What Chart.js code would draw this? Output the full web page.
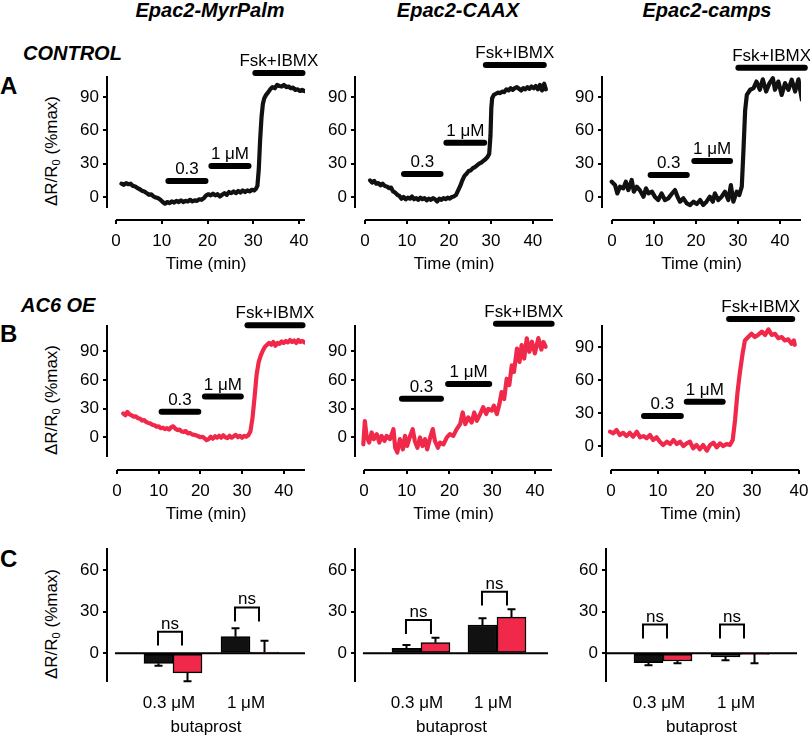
<!DOCTYPE html>
<html>
<head>
<meta charset="utf-8">
<script src="https://cdn.jsdelivr.net/npm/chart.js@4/dist/chart.umd.min.js"></script>
<style>
  body { margin: 0; background: #fff; width: 810px; height: 738px; position: relative; overflow: hidden;
         font-family: "Liberation Sans", Arial, Helvetica, sans-serif; color: #000; }
  canvas { position: absolute; }
  .t { position: absolute; white-space: nowrap; }
  .col { font-weight: bold; font-style: italic; font-size: 20px; line-height: 20px; transform: translateX(-50%); }
  .row { font-weight: bold; font-style: italic; font-size: 20px; line-height: 20px; }
  .let { font-weight: bold; font-size: 24px; line-height: 24px; }
  .ylab { font-size: 17px; line-height: 20px; transform: translate(-50%, -50%) rotate(-90deg); }
  .ylab sub { font-size: 11px; vertical-align: -3px; line-height: 0; }
</style>
</head>
<body>
<div class="t col" style="left:210px; top:0px">Epac2-MyrPalm</div>
<div class="t col" style="left:458px; top:0px">Epac2-CAAX</div>
<div class="t col" style="left:707px; top:0px">Epac2-camps</div>
<div class="t row" style="left:23px; top:43px">CONTROL</div>
<div class="t row" style="left:21px; top:295px">AC6 OE</div>
<div class="t let" style="left:0px; top:74px">A</div>
<div class="t let" style="left:0px; top:322px">B</div>
<div class="t let" style="left:0px; top:547px">C</div>
<div class="t ylab" style="left:52px; top:151px">ΔR/R<sub>0</sub> (%max)</div>
<div class="t ylab" style="left:52px; top:400px">ΔR/R<sub>0</sub> (%max)</div>
<div class="t ylab" style="left:52px; top:624px">ΔR/R<sub>0</sub> (%max)</div>

<canvas id="a1"></canvas><canvas id="a2"></canvas><canvas id="a3"></canvas>
<canvas id="b1"></canvas><canvas id="b2"></canvas><canvas id="b3"></canvas>
<canvas id="c1"></canvas><canvas id="c2"></canvas><canvas id="c3"></canvas>

<script>
// ---- data ----
const timeTicks = [0, 10, 20, 30, 40];
const traceTicks = [0, 30, 60, 90];
const barTicks = [0, 30, 60];
const treatLabels = ['0.3', '1 μM', 'Fsk+IBMX'];
const cats = ['0.3 μM', '1 μM'];

// row A, control (black traces)
const a1Time = [1.2,1.7,2.2,2.7,3.2,3.7,4.2,4.7,5.2,5.7,
  6.2,6.7,7.2,7.7,8.2,8.7,9.2,9.7,10.2,10.7,
  11.2,11.7,12.2,12.7,13.2,13.7,14.2,14.7,15.2,15.7,
  16.2,16.7,17.2,17.7,18.2,18.7,19.2,19.7,20.2,20.7,
  21.2,21.7,22.2,22.7,23.2,23.7,24.2,24.7,25.2,25.7,
  26.2,26.7,27.2,27.7,28.2,28.7,29.2,29.7,30.2,
  30.6,30.9,31.2,31.5,31.8,32.1,32.4,32.8,33.2,
  33.7,34.2,34.7,35.2,35.7,36.2,36.7,37.2,37.7,38.2,
  38.7,39.2,39.7,40.2,40.7,41.2];
const a1Val = [12,11,12.5,11.5,12,10,9.5,8,7,5.5,
  5,3.5,2,2.5,0.5,-0.5,-1,-2.5,-4.5,-6,
  -4.5,-5.5,-4,-5,-3.5,-4.5,-3,-4.5,-3.5,-4,
  -2.5,-4,-3,-3.5,-2,-2.5,-1,1.5,2.5,1.5,
  3,1.5,2.5,0.5,2,3.5,2,4.5,3.5,5,
  3.5,5.5,4,6,4.5,6,5,6.5,6,
  7.5,10,25,52,72,84,89,92,94,
  97,99,98,101,100,99.5,101,99,99.5,98,
  98.5,96.5,97,95.5,96.5,95.5];

const a2Time = [1.2,1.7,2.2,2.7,3.2,3.7,4.2,4.7,5.2,5.7,
  6.2,6.7,7.2,7.7,8.2,8.7,9.2,9.7,10.2,10.7,
  11.2,11.7,12.2,12.7,13.2,13.7,14.2,14.7,15.2,15.7,
  16.2,16.7,17.2,17.7,18.2,18.7,19.2,19.7,20.2,20.7,
  21.2,21.7,22.2,22.7,23.2,23.7,24.2,24.7,25.2,25.7,
  26.2,26.7,27.2,27.7,28.2,28.7,29.2,
  29.6,29.9,30.1,30.3,30.7,
  31.2,31.7,32.2,32.7,33.2,33.7,34.2,34.7,35.2,35.7,
  36.2,36.7,37.2,37.7,38.2,38.7,39.2,39.7,40.2,40.7,
  41.2,41.7,42.2,42.7,43.1];
const a2Val = [15,13,14.5,12,12.5,10.5,12,10,9.5,8,
  8.5,5,4,2,1,-1.5,0,-2,-0.5,-1.5,
  0.5,-2,-1,-2.5,-0.5,-2,-1,-3,-1.5,-2.5,
  -1,-2,-4,-1.5,-2.5,-1,-2,-0.5,-1.5,0,
  0.5,2,6,10,15,19,21,23.5,24,26,
  27,28.5,30,31,32.5,34,36,
  39,55,80,89,92,
  93,94,93.5,95,94.5,97,96,98,96.5,98,
  99,97.5,96,98,97,99,97.5,99.5,98,100,
  97,101,96,102,97];

const a3Time = [-0.07,0.71,1.27,1.9,2.7,3.3,3.9,4.7,5.2,5.9,
  6.7,7.5,8.1,8.7,9.5,10.2,11.0,11.8,12.6,13.4,
  14.2,15.0,15.6,16.2,17.0,17.8,18.6,19.4,20.2,21.0,
  21.7,22.5,23.3,24.0,24.5,25.3,26.1,26.9,27.7,28.3,
  28.9,29.7,30.3,30.9,31.3,31.7,32.1,32.9,33.7,34.4,
  35.2,35.9,36.7,37.5,38.3,38.8,39.6,40.4,41.2,42.0,
  42.8,43.6,44.4,45.2];
const a3Val = [13.8,10.9,3.3,9.3,7.8,13.8,6.3,15.3,4.8,9.3,
  5.7,0.3,7.8,3.3,4.8,0.3,-2.7,3.3,-2.7,-1.2,
  2.7,6.3,0.3,-4.2,-1.2,-5.7,-7.2,-4.2,-6.3,-2.7,
  -7.2,-4.2,0.3,-4.2,3.3,-2.7,0.3,4.8,-2.7,10.8,
  -4.2,4.8,1.8,9.3,42,78,92,96.6,98,104,
  96.6,106,95,102.6,107,96.6,104,92,102.6,96.6,
  105.6,95,106,87.6];

// row B, AC6 overexpression (red traces)
const b1Time = [1.5,2.0,2.5,3.0,3.5,4.0,4.5,5.0,5.5,6.0,
  6.5,7.0,7.5,8.0,8.5,9.0,9.5,10.0,10.5,11.0,
  11.5,12.0,12.5,13.0,13.5,14.0,14.5,15.0,15.5,16.0,
  16.5,17.0,17.5,18.0,18.5,19.0,19.5,20.0,20.5,21.0,
  21.5,22.0,22.5,23.0,23.5,24.0,24.5,25.0,25.5,26.0,
  26.5,27.0,27.5,28.0,28.5,29.0,29.5,30.0,30.5,31.0,
  31.5,32.0,32.5,33.0,33.5,34.0,34.5,35.0,35.5,36.0,
  36.5,37.0,37.5,38.0,38.5,39.0,39.5,40.0,40.5,41.0,
  41.5,42.0,42.5,43.0,43.5,44.0,44.5,45.0];
const b1Val = [25,23,26.5,24,23,21.5,22,20,19.5,17.5,
  18,16,15,14.5,13,12.5,11,11.5,9.5,10,
  8.5,9.5,8,10.5,11.5,9,7.5,8,6,5.5,
  6.5,4,4.5,3,2.5,2,1,0,0.5,-1,
  -3,-2,0.5,-1.5,1,-0.5,1.5,-0.5,2,0,
  -1,1.5,-0.5,1,2.5,0,1.5,-0.5,1.5,0.5,
  2,6,20,42,66,79,86,91,95,97,
  99,97,100,96,99,98,100.5,99,101,99.5,
  102,100,101.5,99,102,100,101,99.5];

const b2Time = [-0.15,0.2,0.6,1.2,1.8,2.3,3.0,3.6,4.1,4.8,
  5.3,6.1,6.9,7.3,7.8,8.4,9.1,9.6,10.1,10.8,
  11.4,11.9,12.5,13.1,13.7,14.3,14.8,15.5,16.1,16.6,
  17.3,17.8,18.6,19.4,20.1,20.9,21.7,22.5,23.1,23.7,
  24.4,25.2,25.8,26.4,27.2,27.9,28.6,29.1,29.9,30.4,
  31.1,31.7,32.2,32.8,33.4,34.0,34.6,35.1,35.8,36.4,
  36.9,37.5,38.1,38.7,39.3,40.0,40.8,41.5,42.0,42.5];
const b2Val = [-7.4,17,1.4,-5.6,5,-2,3.2,-5.6,1.4,-3.9,
  1.4,-2,8.5,-11,-16,-2,-12.7,1.4,-9.2,1.4,
  8.5,-3.9,-11,-0.2,-9.2,-2,-12.7,-0.2,8.5,-3.9,
  -11,-5.6,-7.4,-0.2,3.2,1.4,8.5,13.8,26,13.8,
  20.8,15.5,26,17.3,24.4,31.5,24.4,29.7,27.9,33.2,
  24.4,35,47.4,40,61.4,54.7,75.5,68.5,93,79,
  96.7,82.6,103.8,89.7,100.3,88,104,92,100,95];

const b3Time = [-0.2,0.5,1.2,1.9,2.6,3.3,4.0,4.7,5.5,6.2,
  6.9,7.6,8.3,9.0,9.7,10.4,11.1,11.9,12.6,13.3,
  14.0,14.7,15.4,16.1,16.8,17.5,18.2,18.9,19.6,20.4,
  21.1,21.8,22.5,23.2,23.9,24.6,25.3,25.9,26.4,26.9,
  27.4,28.0,28.5,29.2,29.9,30.6,31.3,32.1,32.8,33.5,
  34.2,34.9,35.6,36.3,37.0,37.7,38.4,38.9,39.1];
const b3Val = [13,11.5,14.5,10,12,9,12,8.5,13,7.9,
  9,7,10,5.5,7.9,3.9,0.9,3.9,1.8,5.5,
  1.8,3.9,0,2.4,3.9,-2.1,0.9,-3,0.9,-4.2,
  0.9,3,-1.2,2.4,0,1.8,0.9,5.5,23.6,47.9,
  66,84,96,99,102,99,101,104,101,106,
  101,102,98,99,96,97,93,96,92];

// drug application bars: start / end (min) and drawn level (%max)
const a1TreatStart = [10.9, 20.3, 29.9], a1TreatEnd = [20.1, 29.5, 41.3], a1TreatLevel = [14.4, 28, 111.7];
const a2TreatStart = [8.7, 18.8, 28.2],  a2TreatEnd = [18.6, 29, 43.2],   a2TreatLevel = [20.7, 48.9, 118.8];
const a3TreatStart = [8.6, 19, 29.5],    a3TreatEnd = [18.4, 28.7, 46.5], a3TreatLevel = [19.8, 32.4, 116.4];
const b1TreatStart = [10.1, 20.5, 30.7], b1TreatEnd = [20.1, 30.3, 45.1], b1TreatLevel = [26.8, 42.7, 117.6];
const b2TreatStart = [8.3, 19.1, 30.3],  b2TreatEnd = [18.6, 29.9, 44.5], b2TreatLevel = [40.3, 56, 119];
const b3TreatStart = [6.5, 15.6, 24.6],  b3TreatEnd = [15.4, 24.3, 39.1], b3TreatLevel = [27.3, 40.3, 115.5];

// row C, butaprost responses (mean, s.e.m.), ns bracket heights
const c1Ctrl = [-7.2, 12],  c1CtrlErr = [1.7, 6],   c1Oe = [-14, 1],    c1OeErr = [6, 8],   c1Bracket = [15.6, 33];
const c2Ctrl = [3.6, 20.4], c2CtrlErr = [2.4, 4.8], c2Oe = [7.7, 26.1], c2OeErr = [3.5, 5.6], c2Bracket = [24, 44.4];
const c3Ctrl = [-6.7, -2.6], c3CtrlErr = [1.9, 2.4], c3Oe = [-5.5, -0.5], c3OeErr = [1.6, 6.6], c3Bracket = [20.7, 20.7];

// ---- drawing ----
const BLACK = '#111';
const RED = '#f0284a';
const FONT = '"Liberation Sans", Arial, Helvetica, sans-serif';
Chart.defaults.font.family = FONT;
Chart.defaults.font.size = 17;
Chart.defaults.color = '#000';

const PAD_TOP = 55, PAD_RIGHT = 25, Y_W = 60;

function placeCanvas(id, box, xH) {
  const c = document.getElementById(id);
  c.width = box.r - box.l + Y_W + PAD_RIGHT;
  c.height = box.b + xH - (box.t - PAD_TOP);
  c.style.left = (box.l - Y_W) + 'px';
  c.style.top = (box.t - PAD_TOP) + 'px';
  return c;
}

// draws the detached axis lines, drug bars, error bars and ns brackets
function extras(o) {
  return {
    id: 'extras',
    afterDatasetsDraw(chart) {
      const { ctx, chartArea: ca } = chart;
      const x = chart.scales.x, y = chart.scales.y;
      ctx.save();
      ctx.strokeStyle = '#000';
      ctx.fillStyle = '#000';
      ctx.lineWidth = 2;
      ctx.beginPath();
      ctx.moveTo(ca.left, y.getPixelForValue(o.yLo));
      ctx.lineTo(ca.left, y.getPixelForValue(o.yHi));
      const baseY = o.xAt === undefined ? ca.bottom : y.getPixelForValue(o.xAt);
      ctx.moveTo(x.getPixelForValue(o.xLo), baseY);
      ctx.lineTo(x.getPixelForValue(o.xHi), baseY);
      ctx.stroke();

      ctx.font = '17px ' + FONT;
      ctx.textAlign = 'center';
      ctx.textBaseline = 'alphabetic';

      if (o.treat) {
        ctx.lineWidth = 6;
        ctx.lineCap = 'round';
        o.treat.start.forEach((s, i) => {
          const x1 = x.getPixelForValue(s) + 2.5, x2 = x.getPixelForValue(o.treat.end[i]) - 2.5;
          const yy = y.getPixelForValue(o.treat.level[i]);
          ctx.beginPath(); ctx.moveTo(x1, yy); ctx.lineTo(x2, yy); ctx.stroke();
          ctx.fillText(treatLabels[i], (x1 + x2) / 2, yy - 7);
        });
      }

      if (o.errors) {
        ctx.lineWidth = 2;
        ctx.lineCap = 'butt';
        o.errors.forEach((errs, di) => {
          const meta = chart.getDatasetMeta(di);
          const ds = chart.data.datasets[di];
          meta.data.forEach((bar, i) => {
            const v = ds.data[i].y;
            const end = y.getPixelForValue(v + (v < 0 ? -errs[i] : errs[i]));
            ctx.beginPath();
            ctx.moveTo(bar.x, y.getPixelForValue(v));
            ctx.lineTo(bar.x, end);
            ctx.moveTo(bar.x - 4, end);
            ctx.lineTo(bar.x + 4, end);
            ctx.stroke();
          });
        });
      }

      if (o.brackets) {
        ctx.lineWidth = 2;
        o.brackets.forEach((top, i) => {
          const xc = x.getPixelForValue(i + 1);
          const l = xc + o.bracketSpan[0], r = xc + o.bracketSpan[1];
          const yt = y.getPixelForValue(top), yb = y.getPixelForValue(top - 10);
          ctx.beginPath();
          ctx.moveTo(l, yb); ctx.lineTo(l, yt); ctx.lineTo(r, yt); ctx.lineTo(r, yb);
          ctx.stroke();
          ctx.fillText('ns', (l + r) / 2, yt - 3);
        });
      }
      ctx.restore();
    }
  };
}

function traceChart(id, box, time, vals, color, xr, yr, yAxisLo, treat) {
  const canvas = placeCanvas(id, box, 58);
  new Chart(canvas, {
    type: 'line',
    data: {
      datasets: [{
        data: time.map((t, i) => ({ x: t, y: vals[i] })),
        borderColor: color,
        borderWidth: 4.2,
        pointRadius: 0,
        tension: 0,
        borderJoinStyle: 'round',
        borderCapStyle: 'round'
      }]
    },
    options: {
      responsive: false, animation: false, devicePixelRatio: 1, events: [],
      layout: { padding: { left: 0, top: PAD_TOP, right: PAD_RIGHT, bottom: 0 } },
      plugins: { legend: { display: false }, tooltip: { enabled: false } },
      scales: {
        x: {
          type: 'linear', min: xr[0], max: xr[1],
          afterFit: s => { s.height = 58; },
          afterBuildTicks: s => { s.ticks = timeTicks.filter(v => v <= s.max).map(v => ({ value: v })); },
          border: { display: false },
          grid: { drawOnChartArea: false, tickLength: 4, color: '#000', lineWidth: 2 },
          ticks: { padding: 7, maxRotation: 0, autoSkip: false },
          title: { display: true, text: 'Time (min)', padding: { top: 0, bottom: 3 } }
        },
        y: {
          type: 'linear', min: yr[0], max: yr[1],
          afterFit: s => { s.width = Y_W; },
          afterBuildTicks: s => { s.ticks = traceTicks.map(v => ({ value: v })); },
          border: { display: false },
          grid: { drawOnChartArea: false, tickLength: 4, color: '#000', lineWidth: 2 },
          ticks: { padding: 4 }
        }
      }
    },
    plugins: [extras({ yLo: yAxisLo, yHi: yr[1], xLo: 0, xHi: xr[1], treat })]
  });
}

function barChart(id, box, ctrl, ctrlErr, oe, oeErr, brackets, xr, zeroFrom, bracketSpan) {
  const canvas = placeCanvas(id, box, 56);
  const yr = [-20.6, 75.8];
  new Chart(canvas, {
    type: 'bar',
    data: {
      datasets: [
        { data: cats.map((c, i) => ({ x: i + 1, y: ctrl[i] })), backgroundColor: BLACK,
          borderColor: '#000', borderWidth: 1.5, borderSkipped: false, barThickness: 29 },
        { data: cats.map((c, i) => ({ x: i + 1, y: oe[i] })), backgroundColor: RED,
          borderColor: '#000', borderWidth: 1.5, borderSkipped: false, barThickness: 29 }
      ]
    },
    options: {
      responsive: false, animation: false, devicePixelRatio: 1, events: [],
      layout: { padding: { left: 0, top: PAD_TOP, right: PAD_RIGHT, bottom: 0 } },
      plugins: { legend: { display: false }, tooltip: { enabled: false } },
      scales: {
        x: {
          type: 'linear', min: xr[0], max: xr[1], offset: false,
          afterFit: s => { s.height = 56; },
          afterBuildTicks: s => { s.ticks = cats.map((c, i) => ({ value: i + 1 })); },
          border: { display: false },
          grid: { display: false, drawTicks: false, offset: false },
          ticks: { padding: 11, maxRotation: 0, autoSkip: false, labelOffset: -4,
                   callback: v => cats[Math.round(v) - 1] },
          title: { display: true, text: 'butaprost', padding: { top: 0, bottom: 0 } }
        },
        y: {
          type: 'linear', min: yr[0], max: yr[1],
          afterFit: s => { s.width = Y_W; },
          afterBuildTicks: s => { s.ticks = barTicks.map(v => ({ value: v })); },
          border: { display: false },
          grid: { drawOnChartArea: false, tickLength: 4, color: '#000', lineWidth: 2 },
          ticks: { padding: 4 }
        }
      }
    },
    plugins: [extras({ yLo: yr[0], yHi: yr[1], xLo: zeroFrom, xHi: xr[1], xAt: 0,
                       errors: [ctrlErr, oeErr], brackets, bracketSpan })]
  });
}

traceChart('a1', { l: 107, t: 76, r: 305, b: 220 }, a1Time, a1Val, BLACK, [-1.97, 41.3], [-20.7, 109], -10,
  { start: a1TreatStart, end: a1TreatEnd, level: a1TreatLevel });
traceChart('a2', { l: 355, t: 76, r: 553, b: 220 }, a2Time, a2Val, BLACK, [-2.38, 44.8], [-20.7, 109], -10,
  { start: a2TreatStart, end: a2TreatEnd, level: a2TreatLevel });
traceChart('a3', { l: 602, t: 76, r: 801, b: 220 }, a3Time, a3Val, BLACK, [-2.38, 45], [-20.7, 109], -10,
  { start: a3TreatStart, end: a3TreatEnd, level: a3TreatLevel });

traceChart('b1', { l: 107, t: 325, r: 305, b: 470 }, b1Time, b1Val, RED, [-2.4, 45.1], [-34.4, 117.8], -20.8,
  { start: b1TreatStart, end: b1TreatEnd, level: b1TreatLevel });
traceChart('b2', { l: 355, t: 325, r: 552, b: 470 }, b2Time, b2Val, RED, [-2.1, 44], [-34.4, 117.8], -20.8,
  { start: b2TreatStart, end: b2TreatEnd, level: b2TreatLevel });
traceChart('b3', { l: 602, t: 325, r: 799, b: 470 }, b3Time, b3Val, RED, [-1.9, 40], [-21.8, 110], -10,
  { start: b3TreatStart, end: b3TreatEnd, level: b3TreatLevel });

barChart('c1', { l: 107, t: 548, r: 305, b: 682 }, c1Ctrl, c1CtrlErr, c1Oe, c1OeErr, c1Bracket, [0.143, 2.714], 0.247, [-15, 9]);
barChart('c2', { l: 355, t: 548, r: 548, b: 682 }, c2Ctrl, c2CtrlErr, c2Oe, c2OeErr, c2Bracket, [0.132, 2.671], 0.237, [-15, 10]);
barChart('c3', { l: 606, t: 548, r: 797, b: 682 }, c3Ctrl, c3CtrlErr, c3Oe, c3OeErr, c3Bracket, [0.26, 2.74], 0.26, [-20, 4]);
</script>
</body>
</html>
